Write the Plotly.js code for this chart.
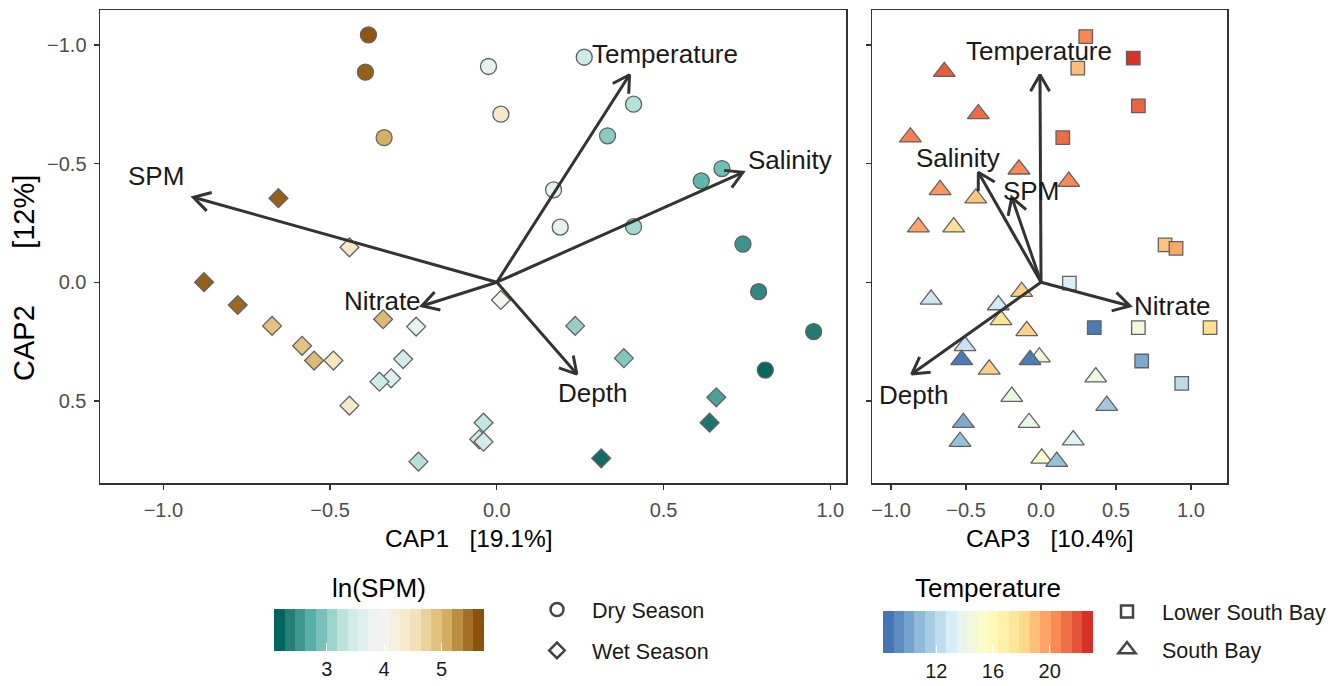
<!DOCTYPE html>
<html><head><meta charset="utf-8">
<script src="https://cdn.plot.ly/plotly-3.0.1.min.js"></script>
<style>html,body{margin:0;padding:0;background:#fff}</style>
</head><body><div id="chart" style="width:1339px;height:686px"></div>
<script>
// ---------------- DATA ----------------
// Left panel (CAP1 vs CAP2), colour = ln(SPM)
const dryCAP1 = [-0.385,-0.394,-0.338,-0.025,0.012,0.262,0.410,0.332,0.170,0.190,0.410,0.675,0.613,0.738,0.785,0.950,0.805];
const dryCAP2 = [-1.042,-0.885,-0.609,-0.909,-0.708,-0.948,-0.750,-0.617,-0.389,-0.232,-0.234,-0.479,-0.427,-0.161,0.040,0.208,0.370];
const dryLnSPM = [5.70,5.65,5.15,3.70,4.45,3.35,3.20,2.95,3.70,3.72,3.10,2.80,2.72,2.45,2.35,2.25,2.10];

const wetCAP1 = [-0.655,-0.442,-0.878,-0.777,-0.674,-0.584,-0.548,-0.490,-0.341,-0.242,-0.281,-0.317,-0.352,-0.442,-0.235,0.012,0.235,0.381,-0.040,-0.053,-0.040,0.313,0.658,0.638];
const wetCAP2 = [-0.354,-0.147,0.000,0.096,0.184,0.268,0.330,0.330,0.156,0.187,0.324,0.405,0.419,0.520,0.756,0.075,0.184,0.320,0.592,0.662,0.672,0.742,0.485,0.592];
const wetLnSPM = [5.65,4.50,5.65,5.60,4.95,4.95,5.05,4.55,5.05,3.75,3.45,3.60,3.35,4.45,3.20,4.00,3.00,2.90,3.25,3.35,3.45,2.15,2.55,2.20];

// Right panel (CAP3 vs CAP2), colour = Temperature
const lsbCAP3 = [0.298,0.245,0.615,0.649,0.145,0.827,0.900,0.189,0.355,0.649,1.127,0.671,0.938];
const lsbCAP2 = [-1.035,-0.902,-0.944,-0.743,-0.609,-0.157,-0.143,0.004,0.191,0.191,0.191,0.332,0.426];
const lsbTemp = [20.8,19.2,23.0,21.8,21.6,19.0,19.8,13.0,8.4,14.4,18.0,10.0,12.0];

const sbCAP3 = [-0.645,-0.418,-0.871,-0.147,0.185,-0.673,-0.435,-0.818,-0.582,-0.733,-0.285,-0.129,-0.267,-0.095,-0.507,-0.529,-0.345,-0.011,-0.073,0.365,-0.195,0.438,-0.518,-0.080,-0.540,0.215,0.005,0.105];
const sbCAP2 = [-0.887,-0.709,-0.611,-0.476,-0.424,-0.389,-0.354,-0.232,-0.232,0.072,0.096,0.040,0.159,0.205,0.268,0.327,0.367,0.316,0.327,0.400,0.482,0.520,0.592,0.592,0.672,0.665,0.742,0.756];
const sbTemp = [22.0,21.6,21.0,20.7,20.7,20.3,18.9,19.9,18.1,12.6,12.8,18.6,17.8,18.6,12.4,8.4,18.6,14.4,8.5,14.2,14.1,11.2,10.0,13.9,10.8,13.3,15.2,10.8];

// Environmental vectors
const envVars = ['Temperature','Salinity','SPM','Nitrate','Depth'];
const vecCAP1 = [0.398,0.738,-0.910,-0.225,0.240];
const vecCAP2 = [-0.874,-0.463,-0.358,0.100,0.387];
const vecCAP3 = [-0.007,-0.418,-0.195,0.593,-0.862];
// label anchor positions
const labCAP1 = [0.505,0.880,-1.023,-0.343,0.287];
const labCAP2L = [-0.963,-0.515,-0.448,0.079,0.466];
const labCAP3 = [-0.012,-0.551,-0.065,0.879,-0.851];
const labCAP2R = [-0.975,-0.524,-0.385,0.100,0.475];

const axisTicks = [-1.0,-0.5,0.0,0.5,1.0];
const yTicks = [-1.0,-0.5,0.0,0.5];
const spmTicks = [3,4,5];
const tempTicks = [12,16,20];
const spmLimits = [2.08,5.74];
const tempLimits = [8.24,23.06];
const spmPalette = ['#01665e','#5ab4ac','#c7eae5','#f5f5f5','#f6e8c3','#d8b365','#8c510a'];
const tempPalette = ['#4575b4','#91bfdb','#e0f3f8','#ffffbf','#fee090','#fc8d59','#d73027'];

// ---------------- COLOUR HELPERS (Lab interpolation) ----------------
function hexToRgb(h){h=h.replace('#','');return [0,2,4].map(i=>parseInt(h.substr(i,2),16));}
function s2l(c){c/=255;return c<=0.04045?c/12.92:Math.pow((c+0.055)/1.055,2.4);}
function l2s(c){c=c<=0.0031308?12.92*c:1.055*Math.pow(c,1/2.4)-0.055;return Math.max(0,Math.min(255,Math.round(c*255)));}
function rgbToLab(rgb){const [r,g,b]=rgb.map(s2l);
  const X=(0.4124564*r+0.3575761*g+0.1804375*b)/0.95047,Y=(0.2126729*r+0.7151522*g+0.0721750*b),Z=(0.0193339*r+0.1191920*g+0.9503041*b)/1.08883;
  const f=t=>t>0.008856?Math.cbrt(t):(7.787*t+16/116);const fx=f(X),fy=f(Y),fz=f(Z);
  return [116*fy-16,500*(fx-fy),200*(fy-fz)];}
function labToRgb(lab){const [L,a,b]=lab;const fy=(L+16)/116,fx=fy+a/500,fz=fy-b/200;
  const fi=t=>t>0.206893?t*t*t:(t-16/116)/7.787;const X=fi(fx)*0.95047,Y=fi(fy),Z=fi(fz)*1.08883;
  return [3.2404542*X-1.5371385*Y-0.4985314*Z,-0.9692660*X+1.8760108*Y+0.0415560*Z,0.0556434*X-0.2040259*Y+1.0572252*Z].map(l2s);}
function interp(pal,t){const labs=pal.map(h=>rgbToLab(hexToRgb(h)));const n=labs.length-1;
  const s=Math.min(n-1,Math.floor(t*n));const f=t*n-s;const a=labs[s],b=labs[s+1];
  const c=labToRgb(a.map((v,i)=>v+(b[i]-v)*f));return 'rgb('+c.join(',')+')';}
function contScale(pal){const out=[];for(let i=0;i<=60;i++){out.push([i/60,interp(pal,i/60)]);}return out;}
function stepScale(pal,n){const out=[];for(let i=0;i<n;i++){const c=interp(pal,i/(n-1));out.push([i/n,c]);out.push([(i+1)/n,c]);}return out;}

// ---------------- LAYOUT GEOMETRY ----------------
const W=1339,H=686;
const dom1=[100/W,846/W], dom2=[872/W,1227/W], domY=[1-483/H,1-10/H];
const xr1=[-1.19,1.047], xr2=[-1.127,1.24], yr=[0.846,-1.147];
const sx1=(dom1[1]-dom1[0])*W/(xr1[1]-xr1[0]);
const sx2=(dom2[1]-dom2[0])*W/(xr2[1]-xr2[0]);
const sy=(domY[1]-domY[0])*H/(yr[0]-yr[1]);

function arrowPaths(vx,vy,sx){
  const X=[],Y=[];const L=19,ang=Math.PI/6;
  for(let i=0;i<vx.length;i++){
    X.push(0,vx[i],null);Y.push(0,vy[i],null);
    const px=vx[i]*sx,py=vy[i]*sy,len=Math.hypot(px,py);const bx=-px/len,by=-py/len;
    const arm=s=>[(vx[i]*sx+L*(bx*Math.cos(s*ang)-by*Math.sin(s*ang)))/sx,(vy[i]*sy+L*(bx*Math.sin(s*ang)+by*Math.cos(s*ang)))/sy];
    const a1=arm(1),a2=arm(-1);
    X.push(a1[0],vx[i],a2[0],null);Y.push(a1[1],vy[i],a2[1],null);
  }
  return {X,Y};
}

const FONT='Liberation Sans, Arial, Helvetica, sans-serif';
const outline={color:'#626262',width:1.3};
const spmCS=contScale(spmPalette), tempCS=contScale(tempPalette);

const traces=[];
traces.push({type:'scatter',mode:'markers',x:dryCAP1,y:dryCAP2,xaxis:'x',yaxis:'y',showlegend:false,hoverinfo:'skip',
  marker:{symbol:'circle',size:16,color:dryLnSPM,colorscale:spmCS,cmin:spmLimits[0],cmax:spmLimits[1],line:outline}});
traces.push({type:'scatter',mode:'markers',x:wetCAP1,y:wetCAP2,xaxis:'x',yaxis:'y',showlegend:false,hoverinfo:'skip',
  marker:{symbol:'diamond',size:14.5,color:wetLnSPM,colorscale:spmCS,cmin:spmLimits[0],cmax:spmLimits[1],line:outline}});
traces.push({type:'scatter',mode:'markers',x:lsbCAP3,y:lsbCAP2,xaxis:'x2',yaxis:'y2',showlegend:false,hoverinfo:'skip',
  marker:{symbol:'square',size:13.5,color:lsbTemp,colorscale:tempCS,cmin:tempLimits[0],cmax:tempLimits[1],line:outline}});
traces.push({type:'scatter',mode:'markers',x:sbCAP3,y:sbCAP2,xaxis:'x2',yaxis:'y2',showlegend:false,hoverinfo:'skip',
  marker:{symbol:'triangle-up',size:19,color:sbTemp,colorscale:tempCS,cmin:tempLimits[0],cmax:tempLimits[1],line:outline}});

const a1=arrowPaths(vecCAP1,vecCAP2,sx1), a2=arrowPaths(vecCAP3,vecCAP2,sx2);
traces.push({type:'scatter',mode:'lines',x:a1.X,y:a1.Y,xaxis:'x',yaxis:'y',showlegend:false,hoverinfo:'skip',line:{color:'#333333',width:3}});
traces.push({type:'scatter',mode:'lines',x:a2.X,y:a2.Y,xaxis:'x2',yaxis:'y2',showlegend:false,hoverinfo:'skip',line:{color:'#333333',width:3}});

// colourbars (stepped, 20 bins)
const cbCommon={orientation:'h',lenmode:'pixels',len:210,thickness:42,xanchor:'center',yanchor:'top',ypad:0,xpad:0,
  outlinewidth:0,ticks:'inside',ticklen:8,tickcolor:'white',tickwidth:1.3,tickfont:{family:FONT,size:20,color:'#1a1a1a'}};
traces.push({type:'scatter',mode:'markers',x:[null],y:[null],xaxis:'x',yaxis:'y',showlegend:false,hoverinfo:'skip',
  marker:{color:[spmLimits[0]],cmin:spmLimits[0],cmax:spmLimits[1],colorscale:stepScale(spmPalette,20),showscale:true,
  colorbar:Object.assign({},cbCommon,{x:379/W,y:1-609/H,tickvals:spmTicks})}});
traces.push({type:'scatter',mode:'markers',x:[null],y:[null],xaxis:'x2',yaxis:'y2',showlegend:false,hoverinfo:'skip',
  marker:{color:[tempLimits[0]],cmin:tempLimits[0],cmax:tempLimits[1],colorscale:stepScale(tempPalette,20),showscale:true,
  colorbar:Object.assign({},cbCommon,{x:988/W,y:1-611/H,tickvals:tempTicks})}});

// legend entries
const legMk=(sym,size)=>({symbol:sym,size:size,color:'white',line:{color:'#444',width:2.5}});
traces.push({type:'scatter',mode:'markers',x:[null],y:[null],name:'Dry Season',legend:'legend',legendgroup:'a',marker:legMk('circle',13)});
traces.push({type:'scatter',mode:'markers',x:[null],y:[null],name:'Wet Season',legend:'legend',legendgroup:'b',marker:legMk('diamond',12)});
traces.push({type:'scatter',mode:'markers',x:[null],y:[null],name:'Lower South Bay',legend:'legend2',legendgroup:'c',marker:legMk('square',12)});
traces.push({type:'scatter',mode:'markers',x:[null],y:[null],name:'South Bay',legend:'legend2',legendgroup:'d',marker:legMk('triangle-up',15)});

const ann=[];
for(let i=0;i<envVars.length;i++){
  ann.push({xref:'x',yref:'y',x:labCAP1[i],y:labCAP2L[i],text:envVars[i],showarrow:false,xanchor:'center',yanchor:'middle',font:{family:FONT,size:26,color:'#1a1a1a'}});
  ann.push({xref:'x2',yref:'y2',x:labCAP3[i],y:labCAP2R[i],text:envVars[i],showarrow:false,xanchor:'center',yanchor:'middle',font:{family:FONT,size:26,color:'#1a1a1a'}});
}
const sp=n=>'\u00a0'.repeat(n);
const pAnn=(x,y,text,size,extra)=>Object.assign({xref:'paper',yref:'paper',x:x/W,y:1-y/H,text:text,showarrow:false,xanchor:'center',yanchor:'middle',font:{family:FONT,size:size,color:'#000'}},extra||{});
ann.push(pAnn(469,538,'CAP1'+sp(3)+'[19.1%]',24.5));
ann.push(pAnn(1050,538,'CAP3'+sp(3)+'[10.4%]',24.5));
ann.push(pAnn(24,278,'CAP2'+sp(7)+'[12%]',29,{textangle:-90}));
ann.push(pAnn(379,588,'ln(SPM)',26));
ann.push(pAnn(988,588,'Temperature',26));

const axBase={showgrid:false,zeroline:false,showline:true,mirror:true,linecolor:'#333',linewidth:1.5,
  ticks:'outside',ticklen:5,tickwidth:1.3,tickcolor:'#333',tickfont:{family:FONT,size:20,color:'#4d4d4d'},tickformat:'.1f',ticklabelstandoff:3};
const legBase={xanchor:'left',yanchor:'top',font:{family:FONT,size:21.5,color:'#1a1a1a'},bgcolor:'rgba(0,0,0,0)',traceorder:'grouped',itemwidth:60};
const layout={
  width:W,height:H,margin:{l:0,r:0,t:0,b:0,autoexpand:false},paper_bgcolor:'white',plot_bgcolor:'white',
  font:{family:FONT},
  xaxis:Object.assign({},axBase,{domain:dom1,range:xr1,tickvals:axisTicks,anchor:'y'}),
  yaxis:Object.assign({},axBase,{domain:domY,range:yr,tickvals:yTicks,anchor:'x'}),
  xaxis2:Object.assign({},axBase,{domain:dom2,range:xr2,tickvals:axisTicks,anchor:'y2'}),
  yaxis2:Object.assign({},axBase,{domain:domY,range:yr,tickvals:yTicks,anchor:'x2',showticklabels:false}),
  legend:Object.assign({},legBase,{x:522/W,y:1-589/H,tracegroupgap:10}),
  legend2:Object.assign({},legBase,{x:1092/W,y:1-591/H,tracegroupgap:7}),
  annotations:ann,showlegend:true
};
Plotly.newPlot('chart',traces,layout,{displayModeBar:false,staticPlot:true});
</script></body></html>
